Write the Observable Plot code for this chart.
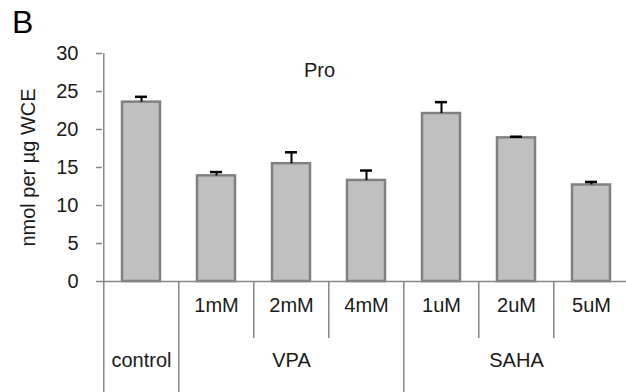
<!DOCTYPE html>
<html><head><meta charset="utf-8">
<script src="https://cdn.jsdelivr.net/npm/d3@7"></script>
<script src="https://cdn.jsdelivr.net/npm/@observablehq/plot@0.6"></script>
<style>
body{margin:0;background:#fff;}
#wrap{position:relative;width:626px;height:392px;overflow:hidden;}
#panel{position:absolute;left:12px;top:6px;font:32px/1 "Liberation Sans",Arial,sans-serif;color:#000;}
#chart{position:absolute;left:0;top:0;}
</style></head><body>
<div id="wrap"><div id="chart"></div><div id="panel">B</div></div>
<script>
// data
const categories = ["control", "1mM", "2mM", "4mM", "1uM", "2uM", "5uM"];
const subLabels = ["", "1mM", "2mM", "4mM", "1uM", "2uM", "5uM"];
const values = [23.6, 13.9, 15.5, 13.3, 22.1, 18.9, 12.7];
const errors = [0.7, 0.5, 1.5, 1.3, 1.5, 0.15, 0.4];
const groupNames = ["control", "VPA", "SAHA"];
const groupCenters = ["control", "2mM", "2uM"];
const groupStarts = ["1mM", "1uM"];
const innerDividers = ["2mM", "4mM", "2uM", "5uM"];
const yTicks = [0, 5, 10, 15, 20, 25, 30];
const chartTitle = "Pro";
const yLabel = "nmol per µg WCE";

const rows = categories.map((c, i) => ({cat: c, value: values[i], top: values[i] + errors[i], sub: subLabels[i]}));

const W = 626, H = 392, mL = 102, mR = -4, mT = 53, mB = 111;
const frameH = H - mT - mB;
const step = (W - mL - mR) / categories.length;
const axisGray = "#868686";
const textCol = "#1a1a1a";

const chart = Plot.plot({
  width: W, height: H,
  marginLeft: mL, marginRight: mR, marginTop: mT, marginBottom: mB,
  style: {fontFamily: '"Liberation Sans", Arial, sans-serif', fontSize: "20px", overflow: "hidden", background: "transparent", color: textCol},
  x: {domain: categories, paddingInner: 0.5, paddingOuter: 0.25, axis: null},
  y: {domain: [yTicks[0], yTicks[yTicks.length - 1]], axis: null},
  marks: [
    Plot.axisY(yTicks, {anchor: "left", tickSize: 6, tickPadding: 18, stroke: axisGray, strokeWidth: 1.5, fill: textCol, label: null, tickFormat: d => String(d)}),
    Plot.barY(rows, {x: "cat", y: "value", fill: "#c0c0c0", stroke: "#808080", strokeWidth: 2.5}),
    Plot.ruleY([0], {stroke: axisGray, strokeWidth: 1.5}),
    Plot.ruleX(rows, {x: "cat", y1: "value", y2: "top", stroke: "#000", strokeWidth: 2}),
    Plot.tickY(rows, {x: "cat", y: "top", stroke: "#000", strokeWidth: 2.5, insetLeft: 13, insetRight: 13}),
    // y axis line, continuing down through the table
    Plot.ruleX([categories[0]], {x: d => d, dx: -step / 2, insetBottom: -mB, stroke: axisGray, strokeWidth: 1.5}),
    // group dividers in the table
    Plot.ruleX(groupStarts, {x: d => d, dx: -step / 2, insetTop: frameH, insetBottom: -mB, stroke: axisGray, strokeWidth: 1.5}),
    Plot.ruleX([categories[categories.length - 1]], {x: d => d, dx: step / 2, insetTop: frameH, insetBottom: -mB, stroke: axisGray, strokeWidth: 1.5}),
    // inner dividers
    Plot.ruleX(innerDividers, {x: d => d, dx: -step / 2, insetTop: frameH, insetBottom: -57, stroke: axisGray, strokeWidth: 1.5}),
    Plot.text(rows.filter(d => d.sub), {x: "cat", text: "sub", frameAnchor: "bottom", dy: 30, fill: textCol}),
    Plot.text(groupNames, {x: (d, i) => groupCenters[i], text: d => d, frameAnchor: "bottom", dy: 85, fill: textCol}),
    Plot.text([chartTitle], {text: d => d, frameAnchor: "top-left", textAnchor: "middle", lineAnchor: "middle", dx: 217, dy: 17, fill: textCol}),
    Plot.text([yLabel], {text: d => d, frameAnchor: "left", textAnchor: "middle", lineAnchor: "middle", rotate: -90, dx: -74, fill: textCol})
  ]
});
document.getElementById("chart").appendChild(chart);
</script>
</body></html>
